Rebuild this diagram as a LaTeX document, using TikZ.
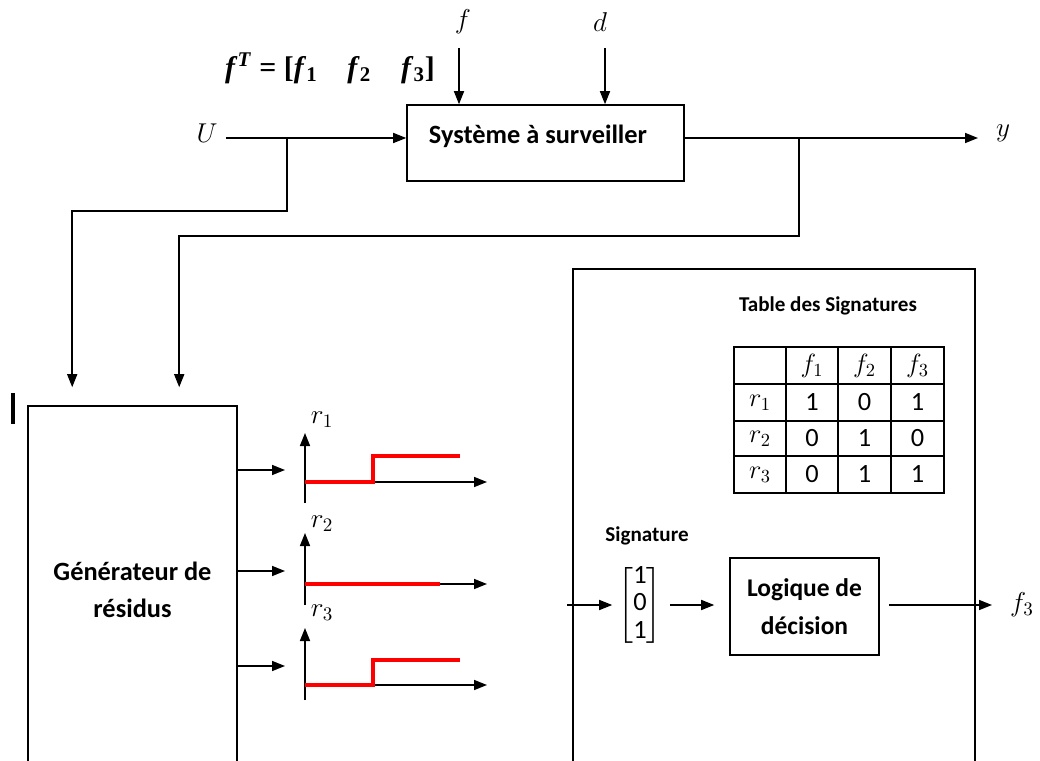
\RequirePackage{fix-cm}
\documentclass[tikz,border=0pt]{standalone}
\usepackage{amsmath}
\usepackage{fontspec}
\setmainfont{Carlito}
\newfontfamily\vecfont{Liberation Serif}
\usepackage{tikz}
\usetikzlibrary{arrows.meta, positioning}

\tikzset{
  wire/.style={line width=0.9pt},
  sig/.style={wire, -{Triangle[length=0.26cm, width=0.2cm]}},
  block/.style={draw, line width=0.9pt, align=center, font=\bfseries\fontsize{15}{21}\selectfont},
  residu/.style={red, line width=2.8pt},
  lbl/.style={font=\fontsize{15.5}{18}\selectfont},
  smalltitle/.style={font=\bfseries\fontsize{12}{14}\selectfont},
  cell/.style={font=\fontsize{15}{18}\selectfont},
}

\begin{document}
\begin{tikzpicture}
			% Paths, nodes and wires:
			\useasboundingbox (0, 0) rectangle (20.8, 15.2);
			\clip (0, 0) rectangle (20.8, 15.2);
			\node[block, minimum width=5.54cm, minimum height=1.52cm] (sys) at (10.91, 12.34){};
			\node[block, draw=none, inner sep=0pt] (sysT) at (10.76, 12.48){Système à surveiller};
			\node[block, minimum width=4.18cm, minimum height=7.36cm] (gen) at (2.65, 3.4){Générateur de\\résidus};
			\node[draw, line width=0.9pt, minimum width=8.04cm, minimum height=10.4cm] (diag) at (15.48, 4.62){};
			\node[block, font=\bfseries\fontsize{14.5}{21.5}\selectfont, minimum width=2.98cm, minimum height=1.94cm] (logic) at (16.09, 3.07){Logique de\\décision};
			\draw[line width=2.4pt] (0.26, 6.72) -- (0.26, 7.34);
			% inputs of the system
			\node[lbl] (f) at (9.26, 14.76){$f$};
			\node[lbl] (d) at (12, 14.76){$d$};
			\node[lbl, font=\vecfont\bfseries\fontsize{17}{20}\selectfont] (fT) at (6.6, 13.84){\textit{f}\textsuperscript{\textit{T}} = [\textit{f}\textsubscript{1}\quad\textit{f}\textsubscript{2}\quad\textit{f}\textsubscript{3}]};
			\coordinate (fin) at (9.18, 14.24);
			\coordinate (din) at (12.1, 14.24);
			\draw[sig] (fin) -- (fin |- sys.north);
			\draw[sig] (din) -- (din |- sys.north);
			\node[lbl] (U) at (4.14, 12.54){$U$};
			\coordinate (uin) at (4.52, 12.44);
			\coordinate (ub) at (5.74, 12.44);
			\draw[sig] (uin) -- (uin -| sys.west);
			\draw[sig] (ub) -- (5.74, 10.98) -| ([xshift=0.9cm, yshift=0.36cm]gen.north west);
			% output of the system
			\node[lbl] (y) at (20.06, 12.54){$y$};
			\coordinate (yout) at (19.56, 12.44);
			\coordinate (yb) at (15.98, 12.44);
			\draw[sig] (yout -| sys.east) -- (yout);
			\draw[sig] (yb) -- (15.98, 10.48) -| ([xshift=3.04cm, yshift=0.36cm]gen.north west);
			% residuals
			\coordinate (g1) at (5.7, 5.8);
			\coordinate (g2) at (5.7, 3.78);
			\coordinate (g3) at (5.7, 1.88);
			\draw[sig] (g1 -| gen.east) -- (g1);
			\draw[sig] (g2 -| gen.east) -- (g2);
			\draw[sig] (g3 -| gen.east) -- (g3);
			\draw[sig] (6.1, 5.14) -- (6.1, 6.54);
			\draw[sig] (6.1, 5.56) -- (9.74, 5.56);
			\draw[residu] (6.1, 5.56) -| (7.46, 6.08) -- (9.2, 6.08);
			\node[lbl] (r1) at (6.44, 6.8){$r_1$};
			\draw[sig] (6.1, 3.1) -- (6.1, 4.54);
			\draw[sig] (6.1, 3.52) -- (9.74, 3.52);
			\draw[residu] (6.1, 3.52) -- (8.8, 3.52);
			\node[lbl] (r2) at (6.44, 4.72){$r_2$};
			\draw[sig] (6.1, 1.2) -- (6.1, 2.64);
			\draw[sig] (6.1, 1.5) -- (9.74, 1.5);
			\draw[residu] (6.1, 1.5) -| (7.46, 2) -- (9.2, 2);
			\node[lbl] (r3) at (6.44, 2.94){$r_3$};
			% table of signatures
			\node[smalltitle] (tabT) at (16.56, 9.08){Table des Signatures};
			\draw[wire] (14.68, 5.34) rectangle (18.88, 8.26);
			\draw[wire] (15.72, 5.34) -- (15.72, 8.26) (16.76, 5.34) -- (16.76, 8.26) (17.82, 5.34) -- (17.82, 8.26);
			\draw[wire] (14.68, 7.52) -- (18.88, 7.52) (14.68, 6.78) -- (18.88, 6.78) (14.68, 6.08) -- (18.88, 6.08);
			\node[cell] (h1) at (16.24, 7.89){$f_1$};
			\node[cell] (h2) at (17.29, 7.89){$f_2$};
			\node[cell] (h3) at (18.35, 7.89){$f_3$};
			\node[cell] (c1) at (15.2, 7.15){$r_1$};
			\node[cell] (c2) at (15.2, 6.43){$r_2$};
			\node[cell] (c3) at (15.2, 5.71){$r_3$};
			\node[cell] (t11) at (16.24, 7.15){1};
			\node[cell] (t12) at (17.29, 7.15){0};
			\node[cell] (t13) at (18.35, 7.15){1};
			\node[cell] (t21) at (16.24, 6.43){0};
			\node[cell] (t22) at (17.29, 6.43){1};
			\node[cell] (t23) at (18.35, 6.43){0};
			\node[cell] (t31) at (16.24, 5.71){0};
			\node[cell] (t32) at (17.29, 5.71){1};
			\node[cell] (t33) at (18.35, 5.71){1};
			% signature and decision
			\node[smalltitle, inner sep=1pt] (sigT) at (12.94, 4.48){Signature};
			\node[cell, inner sep=0pt, font=\fontsize{15}{15.5}\selectfont] (vec) at (12.8, 3.09){$\left[\begin{array}{@{}c@{}}\text{1}\\ \text{0}\\ \text{1}\end{array}\right]$};
			\coordinate (vin) at (11.34, 3.1);
			\draw[sig, shorten >=0.12cm] (vin) -- (vin -| vec.west);
			\draw[sig, shorten <=0.16cm, shorten >=0.3cm] (vin -| vec.east) -- (vin -| logic.west);
			\node[lbl] (f3) at (20.44, 3.1){$f_3$};
			\coordinate (fout) at (19.84, 3.1);
			\draw[sig, shorten <=0.18cm] (fout -| logic.east) -- (fout);
		\end{tikzpicture}
\end{document}
